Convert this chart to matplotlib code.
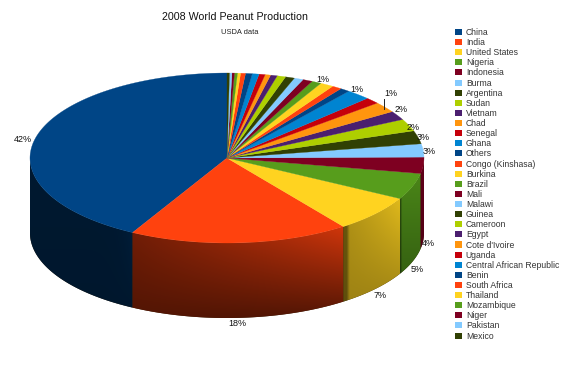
import numpy as np
import matplotlib
matplotlib.use('Agg')
import matplotlib.pyplot as plt
from matplotlib.patches import Polygon, Patch

plt.rcParams['font.family'] = ['Liberation Sans', 'DejaVu Sans']

# counter clockwise from 12 o'clock
countries = ['China', 'India', 'United States', 'Nigeria', 'Indonesia', 'Burma', 'Argentina', 'Sudan',
             'Vietnam', 'Chad', 'Senegal', 'Ghana', 'Others', 'Congo (Kinshasa)', 'Burkina', 'Brazil',
             'Mali', 'Malawi', 'Guinea', 'Cameroon', 'Egypt', "Cote d'Ivoire", 'Uganda',
             'Central African Republic', 'Benin', 'South Africa', 'Thailand', 'Mozambique', 'Niger',
             'Pakistan', 'Mexico']
shares = [42, 18, 7, 5, 3.1, 2.5, 2.5, 2.3, 1.7, 2, 1.2, 2, 0.8, 0.8, 1.1, 0.8, 0.8, 0.75, 0.75, 0.7,
          0.55, 0.45, 0.5, 0.55, 0.55, 0.4, 0.25, 0.25, 0.2, 0.2, 0.2]
palette = ['#004586', '#ff420e', '#ffd320', '#579d1c', '#7e0021', '#83caff', '#314004', '#aecf00',
           '#4b1f6f', '#ff950e', '#c5000b', '#0084d1']

pct_labels = ['42%', '18%', '7%', '5%', '4%', '3%', '3%', '2%', '2%', '1%', '1%', '1%']
pct_x = [23, 237, 380, 417, 428, 429, 423, 413, 401, 391, 357, 323]
pct_y = [139, 324, 295, 269, 243, 152, 137, 127, 110, 93, 89, 79]

# darkness of the rim (top right, top left, bottom) for the slices that show a side
side_shade = {'China': (0.55, 0.36, 0.34), 'India': (0.82, 0.45, 0.32), 'United States': (0.88, 0.68, 0.62),
              'Nigeria': (0.85, 0.85, 0.62), 'Indonesia': (0.8, 0.75, 0.65)}

CX, CY, RX, RY, DEPTH = 227, 158, 197, 85, 75

fig = plt.figure(figsize=(5.76, 3.71), dpi=100)
ax = fig.add_axes([0, 0, 1, 1])
ax.set_xlim(0, 576)
ax.set_ylim(371, 0)
ax.axis('off')


def arc(a0, a1, dy=0):
    t = np.radians(np.linspace(a0, a1, max(int(abs(a1 - a0)) * 2, 2) + 1))
    return np.column_stack([CX + RX * np.cos(t), CY - RY * np.sin(t) + dy])


edges = 90 + 360 * np.cumsum([0] + shares) / sum(shares)

# dark wall underneath so the gradient pieces leave no light seams
ax.add_patch(Polygon(np.vstack([arc(180, 360), arc(360, 180, DEPTH)]), closed=True, facecolor='#3a2a10',
                     edgecolor='none', zorder=0.5))

# side wall, only the front half of the pie shows
for i, name in enumerate(countries):
    a0, a1 = max(edges[i], 180), min(edges[i + 1], 360)
    if a1 <= a0 or name not in side_shade:
        continue
    outline = np.vstack([arc(a0, a1), arc(a1, a0, DEPTH)])
    x0, x1 = outline[:, 0].min(), outline[:, 0].max()
    y0, y1 = outline[:, 1].min(), outline[:, 1].max()
    right, left, bottom = side_shade[name]
    u, v = np.meshgrid(np.linspace(0, 1, 80), np.linspace(0, 1, 60))
    if name == 'China':
        u = u ** 12
    shade = (left + (right - left) * u) * (1 - v) + bottom * v
    if name in ('United States', 'Nigeria'):
        shade = shade * np.clip(u * 8, 0.6, 1)
    rgb = np.array(matplotlib.colors.to_rgb(palette[i % len(palette)]))
    img = ax.imshow(shade[..., None] * rgb, extent=(x0 - 1, x1 + 1, y1, y0), aspect='auto', zorder=1,
                    interpolation='bilinear')
    img.set_clip_path(Polygon(outline, transform=ax.transData))
ax.set_xlim(0, 576)
ax.set_ylim(371, 0)

# top face
for i, name in enumerate(countries):
    col = palette[i % len(palette)]
    ax.add_patch(Polygon(np.vstack([[CX, CY], arc(edges[i], edges[i + 1])]), closed=True, facecolor=col,
                         edgecolor=col, linewidth=0.2, zorder=2))

for lab, x, y in zip(pct_labels, pct_x, pct_y):
    ax.text(x, y, lab, fontsize=6.5, color='#111111', ha='center', va='center', zorder=4)
ax.plot([384, 384], [99, 109], color='#222222', linewidth=0.7, zorder=3)

ax.text(235, 17, '2008 World Peanut Production', fontsize=7.7, color='#111111', ha='center', va='center')
ax.text(240, 32, 'USDA data', fontsize=5.4, color='#222222', ha='center', va='center')

handles = [Patch(facecolor=palette[i % len(palette)], edgecolor='none') for i in range(len(countries))]
ax.legend(handles, countries, loc='upper left', bbox_to_anchor=(455 / 576, 1 - 28 / 371), frameon=False,
          fontsize=6.2, labelspacing=0.13, handlelength=0.85, handleheight=0.7, handletextpad=0.4,
          borderpad=0, borderaxespad=0, labelcolor='#333333')

fig.savefig('out.png', dpi=100)
